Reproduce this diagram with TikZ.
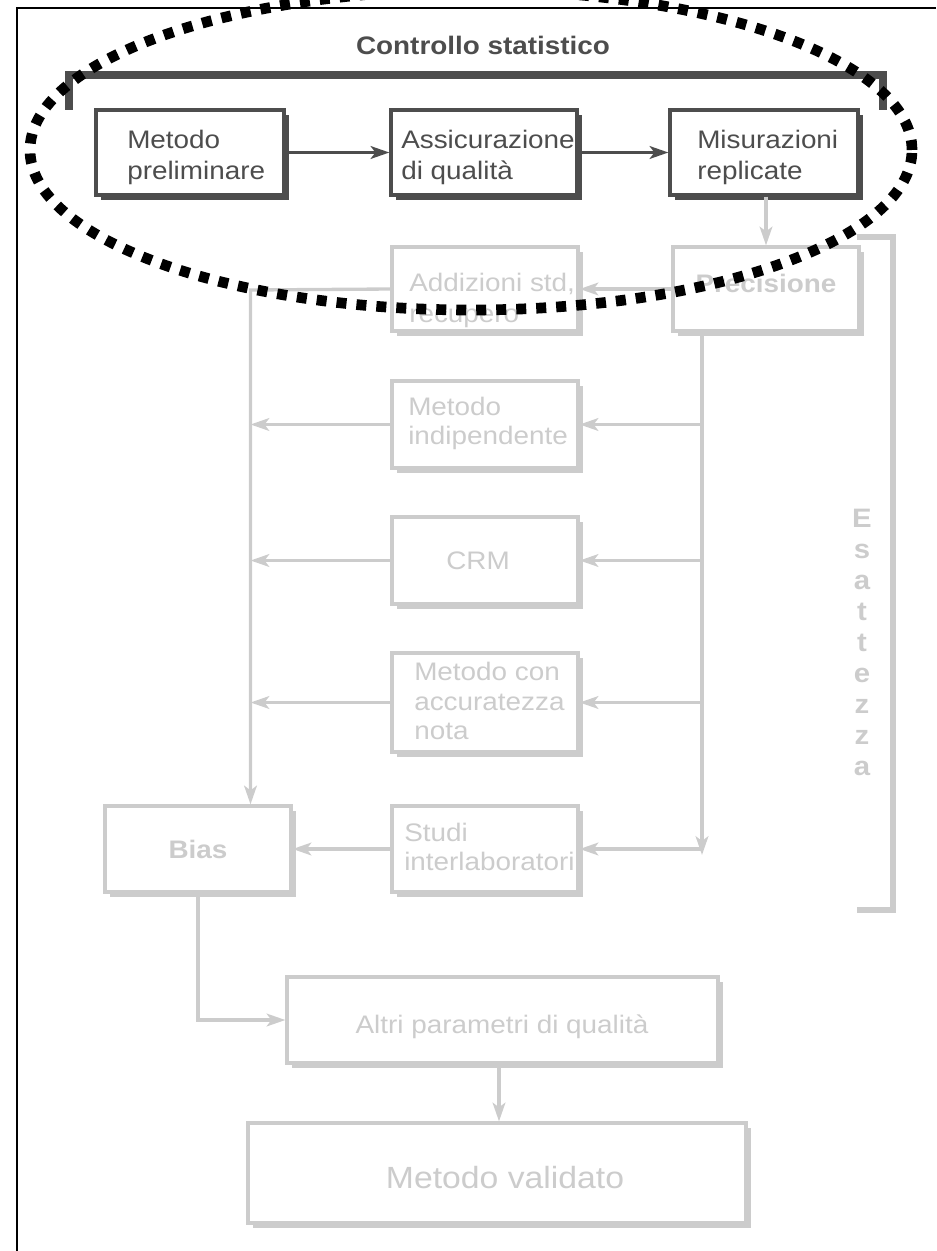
\documentclass[tikz,border=0pt]{standalone}
\usepackage{fontspec}
\setmainfont{Liberation Sans}[FakeStretch=1.1]
\usetikzlibrary{arrows.meta,shadows,calc}
\definecolor{dk}{HTML}{4D4D4D}
\definecolor{lt}{HTML}{CCCCCC}
\tikzset{
  dbox/.style={draw=dk, line width=2.4pt, fill=white, inner sep=0pt,
    general shadow={fill=dk, shadow xshift=3.75pt, shadow yshift=-3.75pt}},
  lbox/.style={draw=lt, line width=2.4pt, fill=white, inner sep=0pt,
    general shadow={fill=lt, shadow xshift=3.75pt, shadow yshift=-3.75pt}},
  dtxt/.style={text=dk, inner sep=0pt, font=\fontsize{19pt}{23pt}\selectfont},
  ltxt/.style={text=lt, inner sep=0pt, font=\fontsize{19pt}{23pt}\selectfont},
  ltxtb/.style={text=lt, inner sep=0pt, font=\fontsize{19pt}{23pt}\selectfont\bfseries},
  tipx/.style={-{Stealth[length=14pt,width=9.5pt,inset=3.5pt]}},
  darr/.style={draw=dk, line width=2.5pt, tipx},
  larr/.style={draw=lt, line width=2.5pt, tipx},
}
\begin{document}
\begin{tikzpicture}[x=0.75pt,y=-0.75pt]
\useasboundingbox (0,0) rectangle (936,1251);
% frame
\draw[black, line width=1.5pt] (17,1251) -- (17,8) -- (936,8);

% top bracket
\draw[dk, line width=5.5pt, line join=miter] (69,110) -- (69,75) -- (883,75) -- (883,110);
\node[text=dk, inner sep=0pt, anchor=base, font=\fontsize{19pt}{23pt}\selectfont\bfseries] (cs) at (483,55) {Controllo statistico};

% top boxes
\node[dbox, minimum width=141pt, minimum height=63.75pt] (pre) at (190,152.5) {};
\node[dbox, minimum width=139.5pt, minimum height=63.75pt] (ass) at (484,152.5) {};
\node[dbox, minimum width=141pt, minimum height=63.75pt] (mis) at (764,152.5) {};
\node[dtxt, anchor=base west] (t1a) at (127,149) {Metodo};
\node[dtxt, anchor=base west] (t1b) at (127,180) {preliminare};
\node[dtxt, anchor=base west] (t2a) at (401,149) {Assicurazione};
\node[dtxt, anchor=base west] (t2b) at (401,180) {di qualità};
\node[dtxt, anchor=base west] (t3a) at (697,149) {Misurazioni};
\node[dtxt, anchor=base west] (t3b) at (697,180) {replicate};
\draw[darr] (pre.east) -- (ass.west);
\draw[darr] (ass.east) -- (mis.west);

% light boxes
\node[lbox, minimum width=139.5pt, minimum height=63pt] (add) at (485,289) {};
\node[lbox, minimum width=139.5pt, minimum height=63pt] (prec) at (766,289) {};
\node[lbox, minimum width=139.5pt, minimum height=65.25pt] (ind) at (485,424.5) {};
\node[lbox, minimum width=139.5pt, minimum height=65.25pt] (crm) at (485,560.5) {};
\node[lbox, minimum width=139.5pt, minimum height=74.25pt] (acc) at (485,702.5) {};
\node[lbox, minimum width=139.5pt, minimum height=64.5pt] (stu) at (485,849) {};
\node[lbox, minimum width=139.5pt, minimum height=64.5pt] (bias) at (198,849) {};
\node[lbox, minimum width=323.25pt, minimum height=64.5pt] (altri) at (502.5,1020) {};
\node[lbox, minimum width=373.5pt, minimum height=75pt] (val) at (497,1173) {};

\node[ltxt, anchor=base west] (a1) at (409,292) {Addizioni std,};
\node[ltxt, anchor=base west] (a2) at (409,323) {recupero};
\node[ltxtb, anchor=base] (p1) at (766,293) {Precisione};
\node[ltxt, anchor=base west] (i1) at (408,415) {Metodo};
\node[ltxt, anchor=base west] (i2) at (408,444.5) {indipendente};
\node[ltxt, anchor=base] (c1) at (478,569) {CRM};
\node[ltxt, anchor=base west] (m1) at (414,680) {Metodo con};
\node[ltxt, anchor=base west] (m2) at (414,710) {accuratezza};
\node[ltxt, anchor=base west] (m3) at (414,739.5) {nota};
\node[ltxt, anchor=base west] (s1) at (404,841) {Studi};
\node[ltxt, anchor=base west] (s2) at (404,870) {interlaboratori};
\node[ltxtb, anchor=base] (b1) at (198,858) {Bias};
\node[ltxt, anchor=base] (al1) at (502,1033) {Altri parametri di qualità};
\node[text=lt, inner sep=0pt, anchor=base, font=\fontsize{23pt}{27pt}\selectfont] (v1) at (505,1188) {Metodo validato};

% Esattezza
\node[text=lt, inner sep=0pt, anchor=north, align=center,
  font=\fontsize{20pt}{23.25pt}\selectfont\bfseries] (es) at (862,509)
  {E\\s\\a\\t\\t\\e\\z\\z\\a};
\draw[lt, line width=4.5pt, line join=miter] (857,237) -- (893,237) -- (893,910) -- (857,910);

% connectors
\draw[larr] (prec.north |- mis.south) -- (prec.north);
\draw[larr] (prec.west) -- (add.east);
\coordinate (L) at (250.5,290);
\coordinate (R) at (702,331);
\coordinate (Rend) at (702,855);
\draw[larr] (add.west) -- (L) -- (L |- bias.north);
\draw[larr] (ind.west) -- (ind.west -| L);
\draw[larr] (crm.west) -- (crm.west -| L);
\draw[larr] (acc.west) -- (acc.west -| L);
\draw[larr] (R) -- (Rend);
\draw[larr] (ind.east -| R) -- (ind.east);
\draw[larr] (crm.east -| R) -- (crm.east);
\draw[larr] (acc.east -| R) -- (acc.east);
\draw[larr] (stu.east -| R) -- (stu.east);
\draw[larr] (stu.west) -- (bias.east);
\draw[larr] (bias.south) |- (altri.west);
\coordinate (AV) at (499,1063);
\draw[larr] (AV) -- (AV |- val.north);

% dotted ellipse
\draw[black, line width=8pt, dash pattern=on 7.5pt off 7.5pt]
  (471,150) ellipse [x radius=330.75pt, y radius=120pt];
\end{tikzpicture}
\end{document}
